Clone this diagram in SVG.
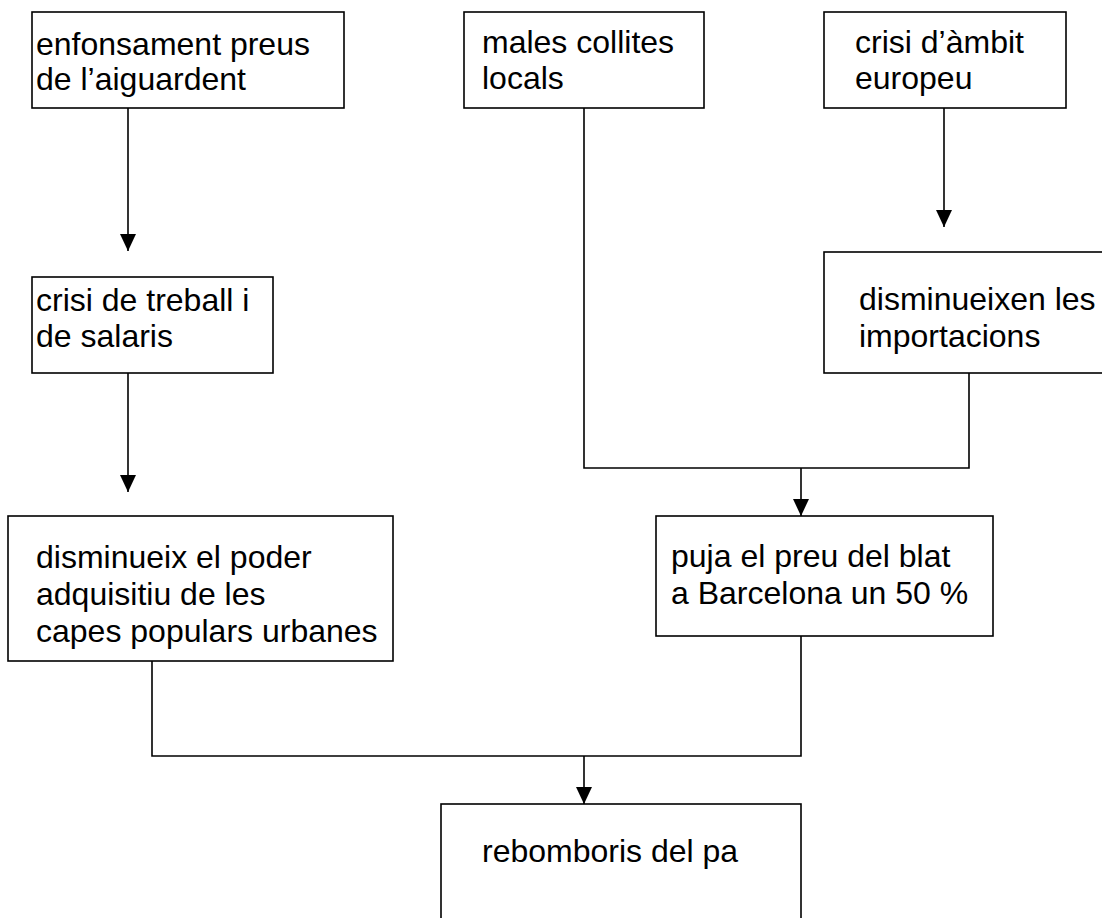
<svg xmlns="http://www.w3.org/2000/svg" width="1102" height="918" viewBox="0 0 1102 918">
<style>
.box{fill:#fff;stroke:#000;stroke-width:1.6}
.lbl{font-family:"Liberation Sans",Arial,sans-serif;font-size:32px;fill:#000}
.con{fill:none;stroke:#000;stroke-width:1.6}
</style>
<defs>
<marker id="ah" markerUnits="userSpaceOnUse" markerWidth="18" markerHeight="17" refX="17" refY="8" orient="auto">
<path d="M0,0 L17,8 L0,16 Z" fill="#000"/>
</marker>
</defs>
<rect width="1102" height="918" fill="#fff"/>
<g id="connectors">
<path class="con" d="M128,108 V251" marker-end="url(#ah)"/>
<path class="con" d="M128,373 V492" marker-end="url(#ah)"/>
<path class="con" d="M944,108 V227" marker-end="url(#ah)"/>
<path class="con" d="M584,108 V468 H969 V373"/>
<path class="con" d="M801,468 V516" marker-end="url(#ah)"/>
<path class="con" d="M152,661 V756 H801 V636"/>
<path class="con" d="M584,756 V804" marker-end="url(#ah)"/>
</g>
<g id="n1">
<rect class="box" x="32" y="12" width="312" height="96"/>
<text class="lbl" x="36" y="55">enfonsament preus</text>
<text class="lbl" x="36" y="90">de l’aiguardent</text>
</g>
<g id="n2">
<rect class="box" x="464" y="12" width="240" height="96"/>
<text class="lbl" x="482" y="53">males collites</text>
<text class="lbl" x="482" y="89">locals</text>
</g>
<g id="n3">
<rect class="box" x="824" y="12" width="242" height="96"/>
<text class="lbl" x="855" y="53">crisi d’àmbit</text>
<text class="lbl" x="855" y="89">europeu</text>
</g>
<g id="n4">
<rect class="box" x="32" y="277" width="241" height="96"/>
<text class="lbl" x="36" y="311">crisi de treball i</text>
<text class="lbl" x="36" y="347">de salaris</text>
</g>
<g id="n5">
<rect class="box" x="824" y="252" width="300" height="121"/>
<text class="lbl" x="859" y="310">disminueixen les</text>
<text class="lbl" x="859" y="347">importacions</text>
</g>
<g id="n6">
<rect class="box" x="8" y="516" width="385" height="145"/>
<text class="lbl" x="36" y="568">disminueix el poder</text>
<text class="lbl" x="36" y="605">adquisitiu de les</text>
<text class="lbl" x="36" y="642">capes populars urbanes</text>
</g>
<g id="n7">
<rect class="box" x="656" y="516" width="337" height="120"/>
<text class="lbl" x="671" y="567">puja el preu del blat</text>
<text class="lbl" x="671" y="604">a Barcelona un 50 %</text>
</g>
<g id="n8">
<rect class="box" x="441" y="804" width="360" height="130"/>
<text class="lbl" x="482" y="862">rebomboris del pa</text>
</g>
</svg>
